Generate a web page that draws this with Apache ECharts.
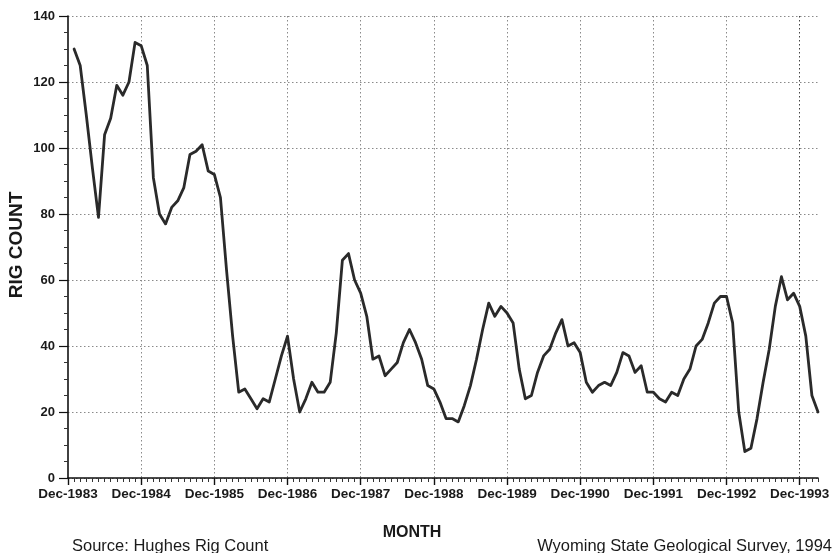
<!DOCTYPE html>
<html>
<head>
<meta charset="utf-8">
<script src="https://cdn.jsdelivr.net/npm/echarts@6/dist/echarts.min.js"></script>
<style>
  html, body { margin: 0; padding: 0; background: #ffffff; }
  #chart { width: 833px; height: 553px; }
</style>
</head>
<body>
<div id="chart"></div>
<script>
// Monthly Wyoming rig count, Jan-1984 .. Mar-1994 (the axis starts at Dec-1983)
const monthNames = ['Jan', 'Feb', 'Mar', 'Apr', 'May', 'Jun', 'Jul', 'Aug', 'Sep', 'Oct', 'Nov', 'Dec'];
const startYear = 1983;       // first category: Dec-1983
const monthCount = 124;       // Dec-1983 .. Mar-1994

const rigCount = [
  130, 125, 110, 94, 79, 104, 109, 119, 116, 120, 132, 131,   // 1984
  125, 91, 80, 77, 82, 84, 88, 98, 99, 101, 93, 92,           // 1985
  85, 63, 43, 26, 27, 24, 21, 24, 23, 30, 37, 43,             // 1986
  30, 20, 24, 29, 26, 26, 29, 44, 66, 68, 60, 56,             // 1987
  49, 36, 37, 31, 33, 35, 41, 45, 41, 36, 28, 27,             // 1988
  23, 18, 18, 17, 22, 28, 36, 45, 53, 49, 52, 50,             // 1989
  47, 33, 24, 25, 32, 37, 39, 44, 48, 40, 41, 38,             // 1990
  29, 26, 28, 29, 28, 32, 38, 37, 32, 34, 26, 26,             // 1991
  24, 23, 26, 25, 30, 33, 40, 42, 47, 53, 55, 55,             // 1992
  47, 20, 8, 9, 18, 29, 39, 52, 61, 54, 56, 52,               // 1993
  43, 25, 20                                                  // 1994
];

const yTicks = { min: 0, max: 140, step: 20 };

const months = [];
for (let i = 0; i < monthCount; i++) {
  const m = (11 + i) % 12;
  const y = startYear + Math.floor((11 + i) / 12);
  months.push(monthNames[m] + '-' + y);
}
const seriesData = [null].concat(rigCount);
const isDec = (idx) => idx % 12 === 0;

const chart = echarts.init(document.getElementById('chart'), null, { renderer: 'canvas' });

const labelFont = { fontFamily: 'Liberation Sans, Arial, sans-serif', fontWeight: 'bold', color: '#1a1a1a' };
const gridDots = { color: '#8a8a8a', width: 1, type: [1.5, 2.5] };

chart.setOption({
  backgroundColor: '#ffffff',
  animation: false,
  grid: { left: 68, right: 15, top: 16, bottom: 75, containLabel: false },
  xAxis: [
    {
      // monthly minor ticks and the axis line
      type: 'category',
      data: months,
      boundaryGap: false,
      position: 'bottom',
      axisLine: { show: true, lineStyle: { color: '#111', width: 1.6 } },
      axisTick: { show: true, interval: 0, length: 4, lineStyle: { color: '#333', width: 1 } },
      axisLabel: { show: false },
      splitLine: { show: false }
    },
    {
      // yearly (December) ticks, labels and vertical grid
      type: 'category',
      data: months,
      boundaryGap: false,
      position: 'bottom',
      axisLine: { show: false },
      axisTick: { show: true, interval: (idx) => isDec(idx), length: 7, lineStyle: { color: '#111', width: 1.4 } },
      axisLabel: Object.assign({ interval: (idx) => isDec(idx), margin: 9, fontSize: 13.5 }, labelFont),
      splitLine: {
        show: true,
        interval: (idx) => isDec(idx) && idx > 0,
        lineStyle: {
          color: ['#8a8a8a', '#8a8a8a', '#8a8a8a', '#8a8a8a', '#8a8a8a', '#8a8a8a', '#8a8a8a', '#8a8a8a', '#8a8a8a', '#444444'],
          width: 1, type: [1.5, 2.5]
        }
      }
    }
  ],
  yAxis: {
    type: 'value',
    min: yTicks.min,
    max: yTicks.max,
    interval: yTicks.step,
    axisLine: { show: true, lineStyle: { color: '#111', width: 1.6 } },
    axisTick: { show: true, length: 9, lineStyle: { color: '#111', width: 1.2 } },
    minorTick: { show: true, splitNumber: 4, length: 4, lineStyle: { color: '#333', width: 1 } },
    axisLabel: Object.assign({ margin: 13, fontSize: 13 }, labelFont),
    splitLine: { show: true, lineStyle: gridDots }
  },
  series: [{
    type: 'line',
    xAxisIndex: 0,
    data: seriesData,
    showSymbol: false,
    smooth: false,
    lineStyle: { color: '#2a2a2a', width: 2.8, join: 'round', cap: 'round' }
  }],
  graphic: [
    {
      type: 'text', x: 17, y: 245, rotation: Math.PI / 2,
      style: { text: 'RIG COUNT', font: 'bold 19px "Liberation Sans", Arial, sans-serif', fill: '#1a1a1a', textAlign: 'center', textVerticalAlign: 'middle' }
    },
    {
      type: 'text', x: 412, y: 533,
      style: { text: 'MONTH', font: 'bold 16px "Liberation Sans", Arial, sans-serif', fill: '#1a1a1a', textAlign: 'center', textVerticalAlign: 'middle' }
    },
    {
      type: 'text', x: 72, y: 546,
      style: { text: 'Source: Hughes Rig Count', font: '16.5px "Liberation Sans", Arial, sans-serif', fill: '#1a1a1a', textAlign: 'left', textVerticalAlign: 'middle' }
    },
    {
      type: 'text', x: 832, y: 546,
      style: { text: 'Wyoming State Geological Survey, 1994', font: '16.5px "Liberation Sans", Arial, sans-serif', fill: '#1a1a1a', textAlign: 'right', textVerticalAlign: 'middle' }
    }
  ]
});
</script>
</body>
</html>
